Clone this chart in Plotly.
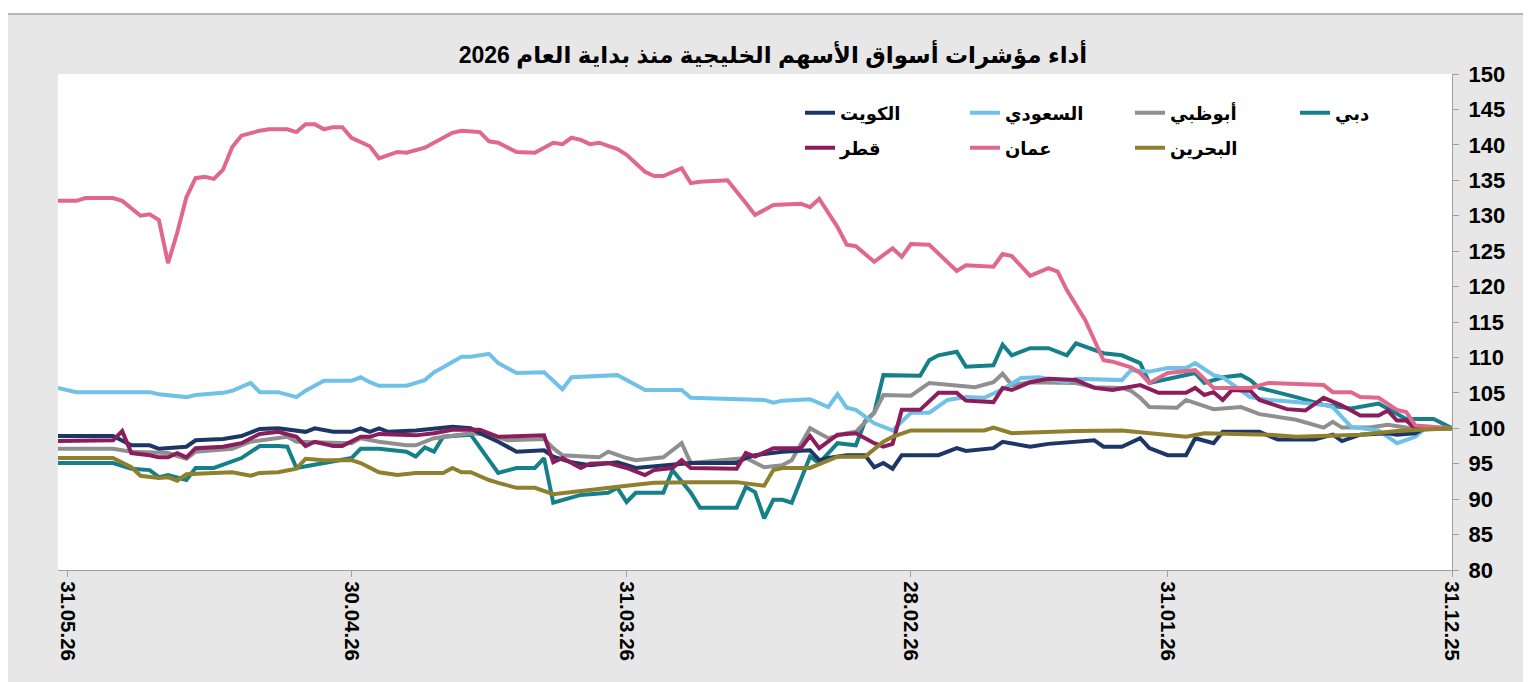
import plotly.graph_objects as go

title_text = "أداء مؤشرات أسواق الأسهم الخليجية منذ بداية العام 2026"
tick_dates = ["2025-12-31", "2026-01-31", "2026-02-28", "2026-03-31", "2026-04-30", "2026-05-31"]
tick_labels = ["31.12.25", "31.01.26", "28.02.26", "31.03.26", "30.04.26", "31.05.26"]

# ---- Oman
oman_dates = ["2025-12-31", "2026-01-04", "2026-01-05", "2026-01-06", "2026-01-08", "2026-01-10", "2026-01-11",
              "2026-01-13", "2026-01-14", "2026-01-20", "2026-01-22", "2026-01-26", "2026-01-28", "2026-01-31",
              "2026-02-02", "2026-02-03", "2026-02-04", "2026-02-06", "2026-02-07", "2026-02-09", "2026-02-11",
              "2026-02-12", "2026-02-13", "2026-02-15", "2026-02-17", "2026-02-18", "2026-02-19", "2026-02-22",
              "2026-02-23", "2026-02-26", "2026-02-28", "2026-03-01", "2026-03-02", "2026-03-04", "2026-03-06",
              "2026-03-07", "2026-03-08", "2026-03-10", "2026-03-11", "2026-03-12", "2026-03-15", "2026-03-17",
              "2026-03-18", "2026-03-20", "2026-03-23", "2026-03-24", "2026-03-25", "2026-03-27", "2026-03-28",
              "2026-03-29", "2026-03-31", "2026-04-01", "2026-04-03", "2026-04-04", "2026-04-05", "2026-04-06",
              "2026-04-07", "2026-04-08", "2026-04-10", "2026-04-12", "2026-04-14", "2026-04-15", "2026-04-16",
              "2026-04-18", "2026-04-19", "2026-04-21", "2026-04-22", "2026-04-24", "2026-04-25", "2026-04-27",
              "2026-04-28", "2026-04-30", "2026-05-01", "2026-05-02", "2026-05-03", "2026-05-04", "2026-05-05",
              "2026-05-06", "2026-05-07", "2026-05-09", "2026-05-10", "2026-05-12", "2026-05-13", "2026-05-14",
              "2026-05-15", "2026-05-16", "2026-05-17", "2026-05-18", "2026-05-19", "2026-05-20", "2026-05-21",
              "2026-05-22", "2026-05-23", "2026-05-25", "2026-05-26", "2026-05-29", "2026-05-30", "2026-06-01"]
oman_vals = [100.0, 100.4, 102.3, 102.6, 104.3, 104.4, 105.1,
             105.1, 106.1, 106.4, 105.7, 105.7, 108.2, 107.8,
             106.4, 107.8, 108.6, 109.4, 109.6, 115.3, 119.5,
             122.1, 122.6, 121.5, 124.3, 124.6, 122.8, 123.0,
             122.2, 125.9, 126.0, 124.2, 125.4, 123.5, 125.7,
             125.9, 128.4, 132.4, 131.2, 131.7, 131.5, 130.1,
             131.8, 135.0, 134.8, 134.6, 136.7, 135.6, 135.6,
             136.2, 138.6, 139.4, 140.3, 140.1, 140.7, 141.0,
             140.1, 140.3, 138.9, 139.0, 140.3, 140.5, 141.8,
             142.0, 141.7, 140.4, 139.6, 138.9, 139.0, 138.1,
             139.8, 141.0, 142.5, 142.5, 142.2, 142.9, 142.9,
             141.8, 142.2, 142.2, 142.0, 141.3, 139.7, 136.5,
             135.2, 135.5, 135.3, 132.6, 127.6, 123.3, 129.4,
             130.2, 130.0, 132.1, 132.5, 132.5, 132.1, 132.1]

# ---- Saudi
saudi_dates = ["2025-12-31", "2026-01-03", "2026-01-04", "2026-01-06", "2026-01-08", "2026-01-11", "2026-01-13",
               "2026-01-14", "2026-01-17", "2026-01-20", "2026-01-22", "2026-01-25", "2026-01-26", "2026-01-28",
               "2026-01-29", "2026-01-31", "2026-02-02", "2026-02-04", "2026-02-05", "2026-02-10", "2026-02-11",
               "2026-02-14", "2026-02-16", "2026-02-18", "2026-02-20", "2026-02-22", "2026-02-24", "2026-02-26",
               "2026-02-28", "2026-03-02", "2026-03-04", "2026-03-06", "2026-03-07", "2026-03-08", "2026-03-09",
               "2026-03-11", "2026-03-14", "2026-03-15", "2026-03-16", "2026-03-19", "2026-03-24", "2026-03-25",
               "2026-03-29", "2026-03-31", "2026-04-01", "2026-04-06", "2026-04-07", "2026-04-09", "2026-04-12",
               "2026-04-14", "2026-04-15", "2026-04-17", "2026-04-18", "2026-04-20", "2026-04-21", "2026-04-22",
               "2026-04-24", "2026-04-27", "2026-04-28", "2026-04-29", "2026-04-30", "2026-05-03", "2026-05-05",
               "2026-05-06", "2026-05-08", "2026-05-10", "2026-05-11", "2026-05-13", "2026-05-14", "2026-05-17",
               "2026-05-18", "2026-05-21", "2026-05-22", "2026-05-30", "2026-06-01"]
saudi_vals = [100.0, 99.9, 98.8, 97.9, 99.7, 100.2, 103.0,
              103.3, 103.7, 104.0, 104.4, 107.2, 107.5, 109.2,
              108.5, 108.5, 108.0, 108.2, 106.8, 107.0, 106.5,
              107.2, 107.1, 105.5, 104.3, 104.4, 104.0, 102.2,
              102.2, 99.7, 100.7, 102.6, 102.9, 104.8, 103.0,
              104.1, 103.9, 103.6, 104.0, 104.1, 104.3, 105.4,
              105.4, 106.8, 107.5, 107.2, 105.5, 107.9, 107.8,
              109.2, 110.5, 110.1, 110.1, 108.6, 107.9, 106.8,
              106.0, 106.0, 106.5, 107.2, 106.7, 106.7, 105.3,
              104.4, 105.1, 105.1, 106.4, 105.3, 105.0, 104.7,
              104.4, 104.8, 105.1, 105.1, 105.7]

# ---- Kuwait
kuwait_dates = ["2025-12-31", "2026-01-03", "2026-01-04", "2026-01-06", "2026-01-07", "2026-01-10", "2026-01-12",
                "2026-01-13", "2026-01-15", "2026-01-19", "2026-01-21", "2026-01-25", "2026-01-26", "2026-01-28",
                "2026-01-29", "2026-01-31", "2026-02-02", "2026-02-03", "2026-02-05", "2026-02-07", "2026-02-08",
                "2026-02-10", "2026-02-13", "2026-02-15", "2026-02-18", "2026-02-19", "2026-02-22", "2026-02-23",
                "2026-02-25", "2026-03-01", "2026-03-02", "2026-03-03", "2026-03-04", "2026-03-05", "2026-03-07",
                "2026-03-09", "2026-03-10", "2026-03-11", "2026-03-14", "2026-03-17", "2026-03-18", "2026-03-19",
                "2026-03-24", "2026-03-30", "2026-04-01", "2026-04-04", "2026-04-06", "2026-04-08", "2026-04-09",
                "2026-04-12", "2026-04-14", "2026-04-16", "2026-04-17", "2026-04-19", "2026-04-23", "2026-04-26",
                "2026-04-27", "2026-04-28", "2026-04-29", "2026-04-30", "2026-05-02", "2026-05-04", "2026-05-05",
                "2026-05-08", "2026-05-10", "2026-05-12", "2026-05-14", "2026-05-17", "2026-05-18", "2026-05-21",
                "2026-05-22", "2026-05-24", "2026-05-26", "2026-06-01"]
kuwait_vals = [100.0, 100.0, 99.3, 99.1, 99.3, 99.1, 98.2,
               99.1, 98.4, 98.4, 99.5, 99.5, 97.9, 98.6,
               96.2, 96.2, 97.2, 98.6, 97.4, 97.4, 98.3,
               98.1, 97.8, 97.4, 98.1, 97.2, 96.8, 97.2,
               96.2, 96.2, 94.3, 95.1, 94.5, 96.2, 96.2,
               95.8, 95.5, 96.9, 96.7, 96.2, 95.8, 95.1,
               95.1, 94.4, 95.2, 94.8, 95.2, 96.0, 96.9,
               96.7, 98.1, 99.3, 100.0, 100.2, 99.7, 99.5,
               100.0, 99.5, 100.0, 99.5, 99.5, 100.0, 99.5,
               100.0, 99.9, 98.9, 98.5, 98.3, 97.4, 97.1,
               97.6, 97.6, 98.9, 98.9]

# ---- Qatar
qatar_dates = ["2025-12-31", "2026-01-04", "2026-01-05", "2026-01-06", "2026-01-07", "2026-01-08", "2026-01-10",
               "2026-01-12", "2026-01-14", "2026-01-16", "2026-01-18", "2026-01-21", "2026-01-22", "2026-01-24",
               "2026-01-25", "2026-01-26", "2026-01-27", "2026-01-28", "2026-01-29", "2026-02-01", "2026-02-03",
               "2026-02-06", "2026-02-08", "2026-02-10", "2026-02-13", "2026-02-15", "2026-02-17", "2026-02-18",
               "2026-02-19", "2026-02-22", "2026-02-23", "2026-02-25", "2026-02-27", "2026-03-01", "2026-03-02",
               "2026-03-03", "2026-03-04", "2026-03-06", "2026-03-08", "2026-03-10", "2026-03-11", "2026-03-12",
               "2026-03-15", "2026-03-17", "2026-03-18", "2026-03-19", "2026-03-24", "2026-03-25", "2026-03-26",
               "2026-03-28", "2026-03-29", "2026-03-31", "2026-04-02", "2026-04-04", "2026-04-05", "2026-04-07",
               "2026-04-08", "2026-04-09", "2026-04-14", "2026-04-16", "2026-04-19", "2026-04-21", "2026-04-23",
               "2026-04-27", "2026-04-28", "2026-04-29", "2026-05-01", "2026-05-02", "2026-05-04", "2026-05-05",
               "2026-05-06", "2026-05-08", "2026-05-10", "2026-05-12", "2026-05-14", "2026-05-17", "2026-05-18",
               "2026-05-19", "2026-05-20", "2026-05-21", "2026-05-22", "2026-05-24", "2026-05-25", "2026-05-26",
               "2026-06-01"]
qatar_vals = [100.0, 100.0, 101.1, 101.1, 102.5, 101.8, 101.8,
              103.2, 104.3, 102.5, 102.7, 104.0, 105.3, 105.4,
              104.0, 105.1, 104.7, 105.7, 105.0, 105.0, 106.1,
              105.4, 105.7, 106.8, 107.0, 106.5, 105.4, 105.7,
              103.7, 103.9, 105.0, 105.0, 102.6, 102.6, 97.8,
              97.4, 97.9, 99.3, 99.1, 97.2, 98.9, 97.2,
              97.2, 96.0, 96.5, 94.3, 94.4, 95.5, 94.4,
              94.1, 93.4, 94.4, 95.1, 95.0, 94.4, 95.8,
              95.2, 99.0, 98.8, 99.8, 99.8, 99.3, 99.0,
              99.2, 98.8, 98.8, 97.5, 97.5, 98.1, 97.5,
              98.8, 99.5, 99.2, 97.9, 97.4, 97.2, 95.9,
              96.5, 95.9, 95.9, 96.2, 96.5, 99.6, 98.3,
              98.2]

# ---- Abu Dhabi
abudhabi_dates = ["2025-12-31", "2026-01-03", "2026-01-05", "2026-01-07", "2026-01-09", "2026-01-12", "2026-01-13",
                  "2026-01-14", "2026-01-17", "2026-01-21", "2026-01-23", "2026-01-26", "2026-01-29", "2026-01-30",
                  "2026-02-02", "2026-02-03", "2026-02-04", "2026-02-05", "2026-02-08", "2026-02-10", "2026-02-15",
                  "2026-02-17", "2026-02-18", "2026-02-19", "2026-02-21", "2026-02-26", "2026-02-28", "2026-03-03",
                  "2026-03-04", "2026-03-06", "2026-03-07", "2026-03-09", "2026-03-11", "2026-03-13", "2026-03-14",
                  "2026-03-16", "2026-03-17", "2026-03-18", "2026-03-24", "2026-03-25", "2026-03-27", "2026-03-30",
                  "2026-03-31", "2026-04-02", "2026-04-03", "2026-04-07", "2026-04-08", "2026-04-09", "2026-04-13",
                  "2026-04-15", "2026-04-17", "2026-04-21", "2026-04-23", "2026-04-24", "2026-04-27", "2026-04-29",
                  "2026-04-30", "2026-05-04", "2026-05-06", "2026-05-07", "2026-05-09", "2026-05-11", "2026-05-13",
                  "2026-05-17", "2026-05-18", "2026-05-20", "2026-05-24", "2026-05-26", "2026-06-01"]
abudhabi_vals = [100.0, 100.0, 100.1, 100.5, 100.1, 100.1, 100.9,
                 100.1, 101.2, 102.0, 103.0, 102.7, 104.0, 102.9,
                 103.0, 104.3, 105.3, 105.7, 105.8, 106.4, 106.5,
                 106.1, 107.7, 106.5, 105.8, 106.4, 104.6, 104.7,
                 102.2, 99.5, 99.3, 98.6, 100.0, 95.5, 94.8,
                 94.5, 95.1, 95.8, 95.1, 97.9, 95.9, 95.5,
                 95.8, 96.7, 95.9, 96.2, 97.2, 98.5, 98.3,
                 99.1, 99.3, 98.6, 97.6, 97.6, 98.1, 98.6,
                 97.9, 98.1, 98.1, 98.8, 98.5, 98.1, 97.1,
                 96.7, 95.7, 96.5, 96.7, 97.1, 97.1]

# ---- Dubai
dubai_dates = ["2025-12-31", "2026-01-02", "2026-01-05", "2026-01-08", "2026-01-11", "2026-01-14", "2026-01-17",
               "2026-01-21", "2026-01-22", "2026-01-23", "2026-01-25", "2026-01-27", "2026-01-28", "2026-02-02",
               "2026-02-03", "2026-02-05", "2026-02-07", "2026-02-09", "2026-02-10", "2026-02-11", "2026-02-13",
               "2026-02-15", "2026-02-17", "2026-02-18", "2026-02-19", "2026-02-22", "2026-02-23", "2026-02-25",
               "2026-02-26", "2026-02-27", "2026-03-03", "2026-03-04", "2026-03-05", "2026-03-06", "2026-03-08",
               "2026-03-10", "2026-03-11", "2026-03-13", "2026-03-14", "2026-03-15", "2026-03-16", "2026-03-17",
               "2026-03-18", "2026-03-19", "2026-03-23", "2026-03-24", "2026-03-26", "2026-03-27", "2026-03-30",
               "2026-03-31", "2026-04-01", "2026-04-02", "2026-04-05", "2026-04-08", "2026-04-09", "2026-04-10",
               "2026-04-12", "2026-04-14", "2026-04-17", "2026-04-20", "2026-04-21", "2026-04-22", "2026-04-23",
               "2026-04-24", "2026-04-27", "2026-04-29", "2026-04-30", "2026-05-06", "2026-05-07", "2026-05-08",
               "2026-05-10", "2026-05-12", "2026-05-15", "2026-05-17", "2026-05-18", "2026-05-20", "2026-05-21",
               "2026-05-22", "2026-05-24", "2026-05-26", "2026-06-01"]
dubai_vals = [100.0, 101.3, 101.3, 103.5, 102.8, 103.3, 104.4,
              105.7, 106.8, 107.5, 107.2, 106.4, 107.8, 106.4,
              109.2, 110.3, 110.6, 111.5, 112.0, 110.3, 111.3,
              111.3, 110.3, 111.8, 108.9, 108.7, 110.8, 110.3,
              109.6, 107.4, 107.5, 102.2, 101.0, 97.6, 97.9,
              95.1, 96.0, 89.5, 89.9, 89.9, 87.3, 91.0,
              91.7, 88.8, 88.8, 90.9, 94.1, 90.9, 90.9,
              89.6, 91.6, 90.9, 90.6, 89.5, 95.8, 94.4,
              94.4, 93.7, 99.1, 98.8, 96.7, 97.3, 96.0,
              96.7, 97.1, 97.1, 95.8, 94.4, 97.4, 97.5,
              97.5, 95.8, 94.4, 94.4, 92.7, 93.4, 93.1,
              94.1, 94.3, 95.1, 95.1]

# ---- Bahrain
bahrain_dates = ["2025-12-31", "2026-01-06", "2026-01-10", "2026-01-17", "2026-01-20", "2026-01-27", "2026-01-29",
                 "2026-02-02", "2026-02-05", "2026-02-10", "2026-02-13", "2026-02-17", "2026-02-19", "2026-02-20",
                 "2026-02-28", "2026-03-02", "2026-03-03", "2026-03-05", "2026-03-08", "2026-03-11", "2026-03-14",
                 "2026-03-15", "2026-03-16", "2026-03-19", "2026-03-24", "2026-03-28", "2026-03-31", "2026-04-02",
                 "2026-04-04", "2026-04-08", "2026-04-10", "2026-04-12", "2026-04-14", "2026-04-15", "2026-04-17",
                 "2026-04-18", "2026-04-19", "2026-04-20", "2026-04-23", "2026-04-25", "2026-04-27", "2026-04-28",
                 "2026-04-29", "2026-04-30", "2026-05-03", "2026-05-05", "2026-05-06", "2026-05-08", "2026-05-10",
                 "2026-05-11", "2026-05-13", "2026-05-15", "2026-05-18", "2026-05-19", "2026-05-20", "2026-05-21",
                 "2026-05-23", "2026-05-24", "2026-05-26", "2026-06-01"]
bahrain_vals = [100.0, 99.6, 99.1, 98.8, 99.1, 99.3, 98.8,
                99.3, 99.7, 99.6, 99.5, 99.3, 100.1, 99.7,
                99.7, 98.8, 98.1, 96.0, 96.0, 94.4, 94.4,
                94.1, 91.9, 92.4, 92.4, 92.3, 91.9, 91.6,
                91.3, 90.7, 91.6, 91.6, 92.3, 92.7, 93.8,
                93.8, 94.4, 93.7, 93.7, 93.4, 93.8, 94.5,
                95.1, 95.5, 95.5, 95.7, 94.3, 93.8, 93.7,
                93.3, 93.8, 93.7, 93.5, 92.6, 93.1, 93.0,
                93.3, 94.5, 95.8, 95.8]

FONT = "Arial, 'Liberation Sans', 'DejaVu Sans', sans-serif"

# name, dates, values, colour, legend, legend rank  (drawing order)
series = [
    ("دبي", dubai_dates, dubai_vals, "#16808a", "legend", 4),
    ("أبوظبي", abudhabi_dates, abudhabi_vals, "#8f8f8f", "legend", 3),
    ("السعودي", saudi_dates, saudi_vals, "#70c1e7", "legend", 2),
    ("الكويت", kuwait_dates, kuwait_vals, "#1c3766", "legend", 1),
    ("قطر", qatar_dates, qatar_vals, "#8c1d5d", "legend2", 1),
    ("عمان", oman_dates, oman_vals, "#e0688a", "legend2", 2),
    ("البحرين", bahrain_dates, bahrain_vals, "#8e802c", "legend2", 3),
]

fig = go.Figure()
for name, d, v, col, lg, rank in series:
    fig.add_trace(go.Scatter(x=d, y=v, mode="lines", name=name,
                             line=dict(color=col, width=4),
                             legend=lg, legendrank=rank))

# page body adds an 8px offset; figure coordinates are shifted accordingly
W, H = 1523, 674
PL, PR, PT, PB = 50, 1444, 66, 562   # plot area in figure px
PW, PHt = PR - PL, PB - PT

legend_common = dict(orientation="h", xanchor="left", yanchor="middle",
                     entrywidth=120, entrywidthmode="pixels", traceorder="normal",
                     bgcolor="rgba(0,0,0,0)",
                     font=dict(family=FONT, size=18, color="black", weight="bold"))

fig.update_layout(
    width=W, height=H,
    margin=dict(l=PL, r=W - PR, t=PT, b=H - PB),
    paper_bgcolor="white", plot_bgcolor="white",
    title=dict(text=title_text, x=(773 - 8) / W, xanchor="center", y=1 - (55 - 8) / H, yanchor="middle",
               xref="container", yref="container",
               font=dict(family=FONT, size=23, color="black", weight="bold")),
    showlegend=True,
    legend=dict(x=(800 - 8 - PL) / PW, y=(PB - (113 - 8)) / PHt, **legend_common),
    legend2=dict(x=(800 - 8 - PL) / PW, y=(PB - (148 - 8)) / PHt, **legend_common),
    shapes=[
        dict(type="rect", xref="paper", yref="paper",
             x0=(-1 - PL) / PW, x1=(W + 20 - PL) / PW, y0=(PB - H - 20) / PHt, y1=(PB - 6) / PHt,
             fillcolor="#e7e7e7", line=dict(color="#a3a3a3", width=1.5), layer="below"),
        dict(type="rect", xref="paper", yref="paper", x0=0, x1=1, y0=0, y1=1,
             fillcolor="white", line=dict(width=0), layer="below"),
    ],
)

fig.update_xaxes(type="date", range=["2026-06-01", "2025-12-31"],
                 tickmode="array", tickvals=tick_dates, ticktext=tick_labels, tickangle=90,
                 ticks="outside", ticklen=6, tickcolor="#a0a0a0",
                 showline=True, linecolor="#a0a0a0", linewidth=1.2,
                 showgrid=False, zeroline=False,
                 tickfont=dict(family=FONT, size=20.5, color="black", weight="bold"))
fig.update_yaxes(range=[80, 150], side="right", tick0=80, dtick=5,
                 ticks="outside", ticklen=6, tickcolor="#a0a0a0", ticklabelstandoff=5,
                 showline=True, linecolor="#a0a0a0", linewidth=1.2,
                 showgrid=False, zeroline=False,
                 tickfont=dict(family=FONT, size=22, color="black", weight="bold"))

fig.write_html("out.html")
